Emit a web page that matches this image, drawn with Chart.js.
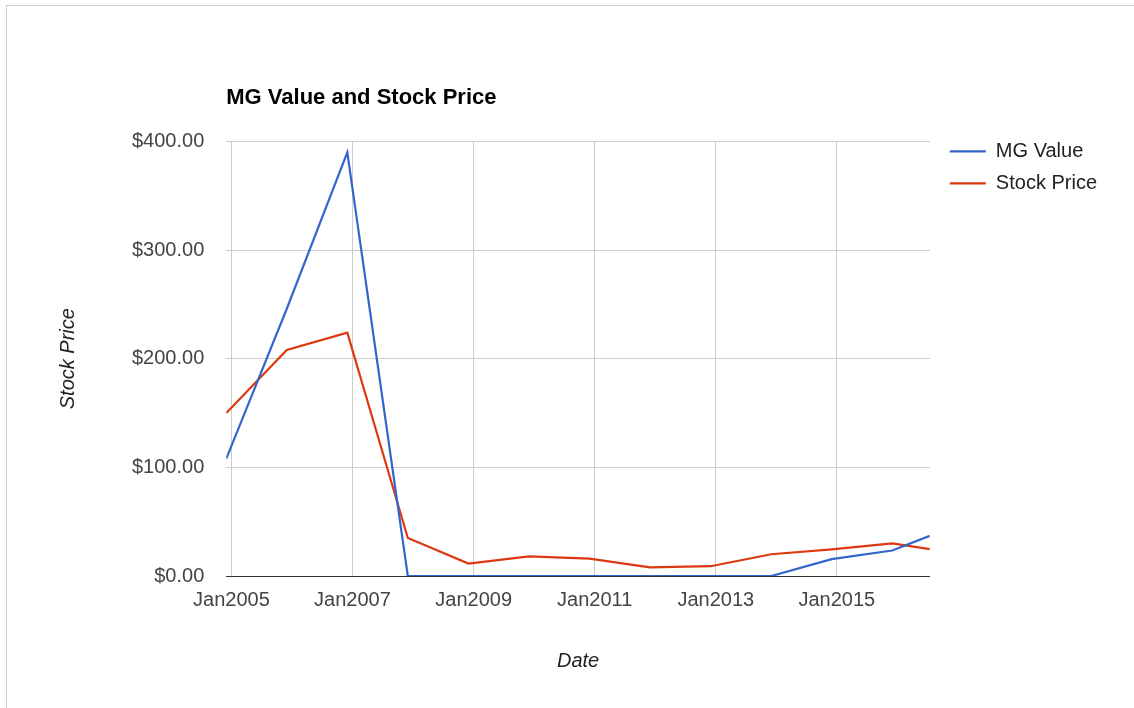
<!DOCTYPE html>
<html>
<head>
<meta charset="utf-8">
<title>MG Value and Stock Price</title>
<script src="https://cdn.jsdelivr.net/npm/chart.js@4.4.1/dist/chart.umd.min.js"></script>
<style>
  html, body { margin: 0; padding: 0; background: #fff; }
  #wrap { position: relative; width: 1134px; height: 708px; }
  #frame { position: absolute; left: 6px; top: 5px; right: 0; bottom: 0;
           border-left: 1px solid #ccc; border-top: 1px solid #ccc; pointer-events: none; }
  canvas { position: absolute; left: 0; top: 0; }
</style>
</head>
<body>
<div id="wrap">
  <canvas id="chart" width="1134" height="708"></canvas>
  <div id="frame"></div>
</div>
<script>
// ================= DATA =================
const fechas = ["2004-12-01", "2005-12-01", "2006-12-01", "2007-12-01", "2008-12-01", "2009-12-01",
                "2010-12-01", "2011-12-01", "2012-12-01", "2013-12-01", "2014-12-01", "2015-12-01", "2016-07-15"];
const mgValue = [108, 246, 390, 0, 0, 0, 0, 0, 0, 0, 15.5, 23.5, 37];
const stockPrice = [150, 208, 224, 35, 11.5, 18, 16, 8, 9, 20, 24.5, 30, 24.8];
const tickYears = [2005, 2007, 2009, 2011, 2013, 2015];
const yTicks = [0, 100, 200, 300, 400];

const FONT = "'Liberation Sans', Arial, sans-serif";
const toTime = s => Date.parse(s + "T00:00:00Z");

const serie = vals => vals.map((v, i) => ({ x: toTime(fechas[i]), y: v }));

// ================= PLACEMENT =================
// title sits over the plot's left edge, legend right of the plot
const placeBlocks = {
  id: "placeBlocks",
  afterLayout(chart) {
    const area = chart.chartArea;
    const t = chart.titleBlock;
    if (t) t.left = area.left;
    const lg = chart.legend;
    if (lg) {
      const h = lg.height, w = lg.width;
      lg.left = area.right + 8;
      lg.right = lg.left + w;
      lg.top = area.top - 12;
      lg.bottom = lg.top + h;
    }
  }
};

// ================= CHART =================
new Chart(document.getElementById("chart"), {
  type: "line",
  data: {
    datasets: [
      { label: "MG Value", data: serie(mgValue), borderColor: "#3366cc", backgroundColor: "#3366cc",
        borderWidth: 2.2, pointRadius: 0, tension: 0 },
      { label: "Stock Price", data: serie(stockPrice), borderColor: "#dc3912", backgroundColor: "#dc3912",
        borderWidth: 2.2, pointRadius: 0, tension: 0 }
    ]
  },
  options: {
    responsive: false,
    animation: false,
    layout: { padding: { left: 0, right: 35, top: 0, bottom: 0 } },
    plugins: {
      title: {
        display: true, text: "MG Value and Stock Price", align: "start", color: "#000",
        font: { family: FONT, size: 22, weight: "bold" },
        padding: { top: 85, bottom: 30 }
      },
      legend: {
        position: "right", align: "start", fullSize: false,
        labels: {
          usePointStyle: true, pointStyle: "line", pointStyleWidth: 36,
          color: "#222", padding: 12, font: { family: FONT, size: 20 }
        }
      },
      tooltip: { enabled: false }
    },
    scales: {
      x: {
        type: "linear",
        min: toTime(fechas[0]),
        max: toTime(fechas[fechas.length - 1]),
        afterBuildTicks: axis => { axis.ticks = tickYears.map(y => ({ value: Date.UTC(y, 0, 1) })); },
        ticks: {
          autoSkip: false, maxRotation: 0, color: "#444", padding: 12,
          font: { family: FONT, size: 20 },
          callback: v => "Jan" + new Date(v).getUTCFullYear()
        },
        grid: { color: "#ccc", drawTicks: false },
        border: { display: true, color: "#333", width: 1 },
        title: {
          display: true, text: "Date", color: "#222",
          font: { family: FONT, size: 20, style: "italic" },
          padding: { top: 25, bottom: 35 }
        }
      },
      y: {
        min: 0, max: 400,
        afterBuildTicks: axis => { axis.ticks = yTicks.map(v => ({ value: v })); },
        ticks: {
          color: "#444", padding: 22, font: { family: FONT, size: 20 },
          callback: v => "$" + v.toFixed(2)
        },
        grid: { color: "#ccc", drawTicks: false },
        border: { display: false },
        title: {
          display: true, text: "Stock Price", color: "#222",
          font: { family: FONT, size: 20, style: "italic" },
          padding: { top: 56, bottom: 30 }
        }
      }
    }
  },
  plugins: [placeBlocks]
});
</script>
</body>
</html>
